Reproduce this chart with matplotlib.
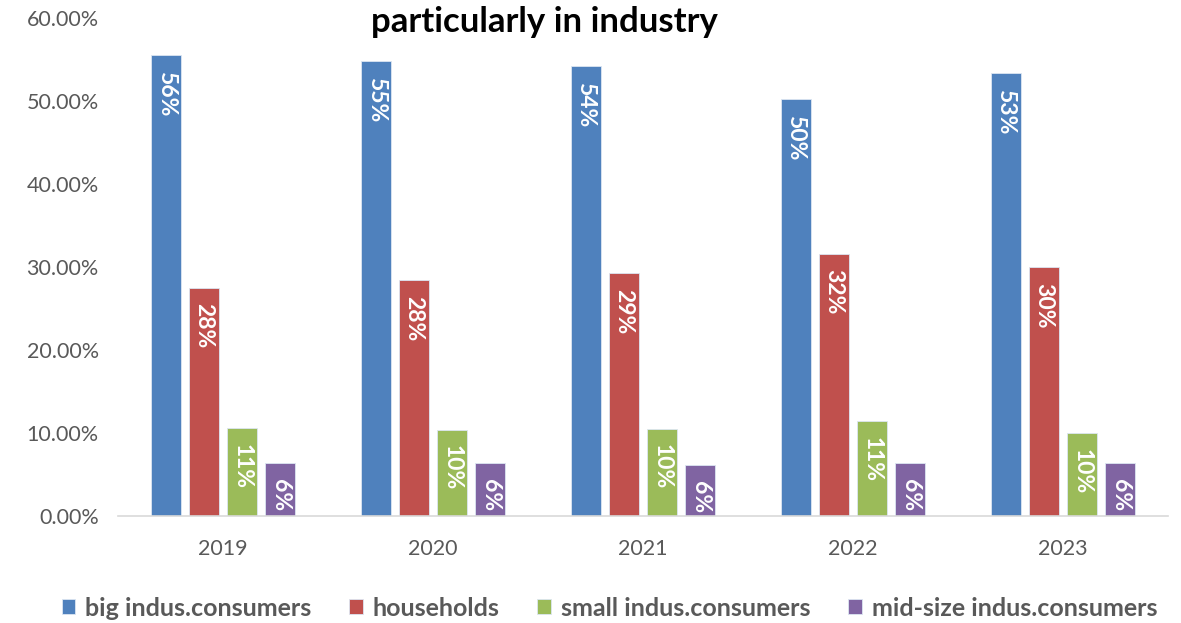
import numpy as np
import matplotlib
matplotlib.use("Agg")
from matplotlib import pyplot as plt
from matplotlib.ticker import FuncFormatter

plt.rcParams['font.family'] = ['Lato', 'DejaVu Sans']

years = ["2019", "2020", "2021", "2022", "2023"]
series_names = ["big indus.consumers", "households", "small indus.consumers", "mid-size indus.consumers"]
big_indus = [55.5, 54.8, 54.2, 50.2, 53.4]
households = [27.5, 28.4, 29.3, 31.6, 30.0]
small_indus = [10.6, 10.4, 10.5, 11.4, 10.0]
mid_indus = [6.4, 6.4, 6.1, 6.4, 6.4]
colors = ["#4F81BD", "#C0504D", "#9BBB59", "#8064A2"]

fig = plt.figure(figsize=(11.81, 6.23), dpi=100)
ax = fig.add_axes([0.1, 0.172, 0.889, 0.799])

x = np.arange(len(years))
w = 0.143
step = 0.181
for i, (vals, name) in enumerate(zip([big_indus, households, small_indus, mid_indus], series_names)):
    pos = x + (i - 1.5) * step
    bars = ax.bar(pos, vals, width=w, color=colors[i], edgecolor="#DCE6F2", linewidth=0.6, label=name)
    for b, v in zip(bars, vals):
        ax.text(b.get_x() + b.get_width() / 2, v - 1.9, f"{v:.0f}%", rotation=-90,
                ha="center", va="top", color="white", fontsize=16.5, fontweight="bold")

ax.set_xlim(-0.5, len(years) - 0.5)
ax.set_ylim(0, 60)
ax.set_yticks(np.arange(0, 61, 10))
ax.yaxis.set_major_formatter(FuncFormatter(lambda v, _: f"{v:.2f}%"))
ax.set_xticks(x)
ax.set_xticklabels(years)
ax.tick_params(axis="both", length=0, labelsize=15.5, colors="#595959")
ax.tick_params(axis="y", pad=14)
ax.tick_params(axis="x", pad=17)
for s in ["top", "right", "left"]:
    ax.spines[s].set_visible(False)
ax.spines["bottom"].set_color("#D9D9D9")
ax.spines["bottom"].set_linewidth(1.2)

fig.text(0.461, 0.965, "particularly in industry", ha="center", va="center",
         fontsize=25, fontweight="bold", color="black")

leg = fig.legend(loc="center", bbox_to_anchor=(0.516, 0.024), ncol=4, frameon=False,
                 handlelength=0.55, handleheight=0.55, handletextpad=0.4, columnspacing=1.5,
                 prop={"size": 18, "weight": "bold"})
for t in leg.get_texts():
    t.set_color("#595959")

fig.savefig("out.png", dpi=100)
